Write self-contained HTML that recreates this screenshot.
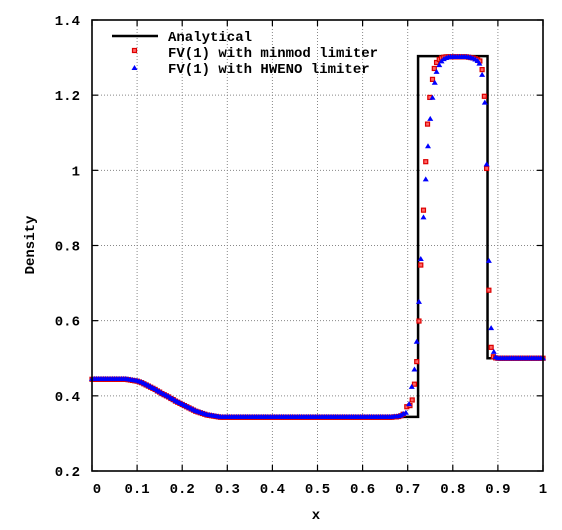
<!DOCTYPE html>
<html><head><meta charset="utf-8"><style>
body{margin:0;background:#fff;}
svg text{font-family:"Liberation Mono",monospace;font-size:14px;font-weight:bold;fill:#000;}
</style></head><body>
<svg id="chart" width="562" height="525" xmlns="http://www.w3.org/2000/svg">
<g id="grid"></g>
<g id="series"></g>
<g id="axes"></g>
<text x="316" y="519" text-anchor="middle">x</text>
<text x="0" y="0" transform="translate(34,245) rotate(-90)" text-anchor="middle">Density</text>
<g>
<line x1="112" y1="36" x2="158" y2="36" stroke="#000" stroke-width="2.5"/>
<text x="168" y="41">Analytical</text>
<rect x="132.5" y="48.5" width="4" height="4" fill="#f66" stroke="#d00" stroke-width="1.2"/>
<text x="168" y="57">FV(1) with minmod limiter</text>
<polygon points="134.5,65 137.5,70 131.5,70" fill="#00f"/>
<text x="168" y="73">FV(1) with HWENO limiter</text>
</g>
</svg>
<script>
const xTicks=[0,0.1,0.2,0.3,0.4,0.5,0.6,0.7,0.8,0.9,1];
const xTickLabels=["0","0.1","0.2","0.3","0.4","0.5","0.6","0.7","0.8","0.9","1"];
const yTicks=[0.2,0.4,0.6,0.8,1,1.2,1.4];
const yTickLabels=["0.2","0.4","0.6","0.8","1","1.2","1.4"];
const anaX=[0,0.08,0.10,0.12,0.14,0.16,0.18,0.20,0.22,0.24,0.26,0.27,0.723,0.723,0.877,0.877,1];
const anaY=[0.445,0.445,0.437,0.427,0.416,0.404,0.392,0.380,0.368,0.357,0.348,0.344,0.344,1.304,1.304,0.5,0.5];
const smoothX=[0,0.005,0.01,0.015,0.02,0.025,0.03,0.035,0.04,0.045,0.05,0.055,0.06,0.065,0.07,0.075,0.08,0.085,0.09,0.095,0.10,0.105,0.11,0.115,0.12,0.125,0.13,0.135,0.14,0.145,0.15,0.155,0.16,0.165,0.17,0.175,0.18,0.185,0.19,0.195,0.20,0.205,0.21,0.215,0.22,0.225,0.23,0.235,0.24,0.245,0.25,0.255,0.26,0.265,0.27,0.275,0.28,0.285,
0.29,0.295,0.30,0.305,0.31,0.315,0.32,0.325,0.33,0.335,0.34,0.345,0.35,0.355,0.36,0.365,0.37,0.375,0.38,0.385,0.39,0.395,0.40,0.405,0.41,0.415,0.42,0.425,0.43,0.435,0.44,0.445,0.45,0.455,0.46,0.465,0.47,0.475,0.48,0.485,0.49,0.495,0.50,0.505,0.51,0.515,0.52,0.525,0.53,0.535,0.54,0.545,0.55,0.555,0.56,0.565,0.57,0.575,0.58,0.585,0.59,0.595,0.60,0.605,0.61,0.615,0.62,0.625,0.63,0.635,0.64,0.645,0.65,0.655,0.66,0.665,0.67,0.675,0.68,0.685,0.69];
const smoothY=[0.445,0.445,0.445,0.445,0.445,0.445,0.445,0.445,0.445,0.445,0.445,0.445,0.445,0.445,0.445,0.445,0.444,0.443,0.442,0.441,0.440,0.438,0.436,0.433,0.430,0.427,0.424,0.421,0.418,0.414,0.411,0.407,0.404,0.401,0.398,0.394,0.391,0.387,0.384,0.381,0.378,0.375,0.372,0.369,0.366,0.363,0.360,0.358,0.356,0.354,0.352,0.350,0.349,0.348,0.347,0.346,0.345,0.344,
0.344,0.344,0.344,0.344,0.344,0.344,0.344,0.344,0.344,0.344,0.344,0.344,0.344,0.344,0.344,0.344,0.344,0.344,0.344,0.344,0.344,0.344,0.344,0.344,0.344,0.344,0.344,0.344,0.344,0.344,0.344,0.344,0.344,0.344,0.344,0.344,0.344,0.344,0.344,0.344,0.344,0.344,0.344,0.344,0.344,0.344,0.344,0.344,0.344,0.344,0.344,0.344,0.344,0.344,0.344,0.344,0.344,0.344,0.344,0.344,0.344,0.344,0.344,0.344,0.344,0.344,0.344,0.344,0.344,0.344,0.344,0.344,0.344,0.344,0.344,0.344,0.345,0.345,0.346,0.348,0.352];
const minmodX=[0.698,0.705,0.710,0.715,0.720,0.725,0.729,0.735,0.740,0.744,0.749,0.755,0.759,0.764,0.770,0.775,0.780,0.785,0.790,0.795,0.800,0.805,0.810,0.815,0.820,0.825,0.830,0.835,0.840,0.845,0.850,0.855,0.860,0.865,0.870,0.875,0.880,0.885,0.890,0.895,0.90,0.905,0.91,0.915,0.92,0.925,0.93,0.935,0.94,0.945,0.95,0.955,0.96,0.965,0.97,0.975,0.98,0.985,0.99,0.995,1.0];
const minmodY=[0.371,0.374,0.389,0.431,0.491,0.599,0.748,0.894,1.023,1.123,1.194,1.242,1.271,1.287,1.295,1.299,1.301,1.302,1.302,1.302,1.302,1.302,1.302,1.302,1.302,1.302,1.302,1.301,1.300,1.299,1.297,1.295,1.291,1.268,1.197,1.005,0.681,0.529,0.504,0.501,0.5,0.5,0.5,0.5,0.5,0.5,0.5,0.5,0.5,0.5,0.5,0.5,0.5,0.5,0.5,0.5,0.5,0.5,0.5,0.5,0.5];
const hwenoX=[0.696,0.703,0.709,0.715,0.720,0.725,0.729,0.735,0.740,0.745,0.750,0.755,0.760,0.764,0.770,0.775,0.780,0.785,0.790,0.795,0.800,0.805,0.810,0.815,0.820,0.825,0.830,0.835,0.840,0.845,0.850,0.855,0.859,0.865,0.871,0.875,0.880,0.885,0.891,0.895,0.90,0.905,0.91,0.915,0.92,0.925,0.93,0.935,0.94,0.945,0.95,0.955,0.96,0.965,0.97,0.975,0.98,0.985,0.99,0.995,1.0];
const hwenoY=[0.355,0.378,0.424,0.470,0.544,0.650,0.764,0.875,0.976,1.064,1.137,1.193,1.233,1.262,1.280,1.290,1.296,1.299,1.301,1.302,1.302,1.302,1.302,1.302,1.302,1.302,1.302,1.301,1.300,1.298,1.295,1.291,1.284,1.254,1.180,1.016,0.759,0.580,0.517,0.503,0.5,0.5,0.5,0.5,0.5,0.5,0.5,0.5,0.5,0.5,0.5,0.5,0.5,0.5,0.5,0.5,0.5,0.5,0.5,0.5,0.5];
const NS="http://www.w3.org/2000/svg";
const L=92,R=543,T=20,B=471;
function sx(v){return L+v*(R-L);}
function sy(v){return B-(v-0.2)/1.2*(B-T);}
function mk(tag,attrs,parent){const e=document.createElementNS(NS,tag);for(const k in attrs)e.setAttribute(k,attrs[k]);parent.appendChild(e);return e;}
const grid=document.getElementById('grid'),axes=document.getElementById('axes'),ser=document.getElementById('series');
xTicks.forEach((t,i)=>{
  const x=sx(t);
  if(i>0&&i<xTicks.length-1){const g=mk('line',{x1:x,y1:T,x2:x,y2:B,stroke:'#888','stroke-width':1,'stroke-dasharray':'1,2'},grid);
  
  }
  const a=mk('line',{x1:x,y1:B,x2:x,y2:B-6,stroke:'#000','stroke-width':1.2},axes);
  
  
  const b=mk('line',{x1:x,y1:T,x2:x,y2:T+6,stroke:'#000','stroke-width':1.2},axes);
  
  
  const tx=mk('text',{x:(i==0?x+5:x),y:493,'text-anchor':'middle'},axes);tx.textContent=xTickLabels[i];
  
  
});
yTicks.forEach((t,i)=>{
  const y=sy(t);
  if(i>0&&i<yTicks.length-1){const g=mk('line',{x1:L,y1:y,x2:R,y2:y,stroke:'#888','stroke-width':1,'stroke-dasharray':'1,2'},grid);
  
  }
  const a=mk('line',{x1:L,y1:y,x2:L+6,y2:y,stroke:'#000','stroke-width':1.2},axes);
  
  
  const b=mk('line',{x1:R,y1:y,x2:R-6,y2:y,stroke:'#000','stroke-width':1.2},axes);
  
  
  const tx=mk('text',{x:80,y:y+5,'text-anchor':'end'},axes);tx.textContent=yTickLabels[i];
  
  
});
const frame=mk('rect',{x:L,y:T,width:R-L,height:B-T,fill:'none',stroke:'#000','stroke-width':1.6},axes);


const aPts=anaX.map((v,i)=>sx(v)+','+sy(anaY[i])).join(' ');
const an=mk('polyline',{points:aPts,fill:'none',stroke:'#000','stroke-width':2.5},ser);


function drawSquare(x,y){const r=mk('rect',{x:sx(x)-2,y:sy(y)-2,width:4,height:4,fill:'#f66',stroke:'#d00','stroke-width':1.2},ser);
  
  }
function drawTri(x,y){const X=sx(x),Y=sy(y);const p=mk('polygon',{points:X+','+(Y-3)+' '+(X+3)+','+(Y+2)+' '+(X-3)+','+(Y+2),fill:'#00f'},ser);
  
  }
smoothX.forEach((x,i)=>drawSquare(x,smoothY[i]-0.001));
minmodX.forEach((x,i)=>drawSquare(x,minmodY[i]));
smoothX.forEach((x,i)=>drawTri(x,smoothY[i]));
hwenoX.forEach((x,i)=>drawTri(x,hwenoY[i]));
</script>
</body></html>
